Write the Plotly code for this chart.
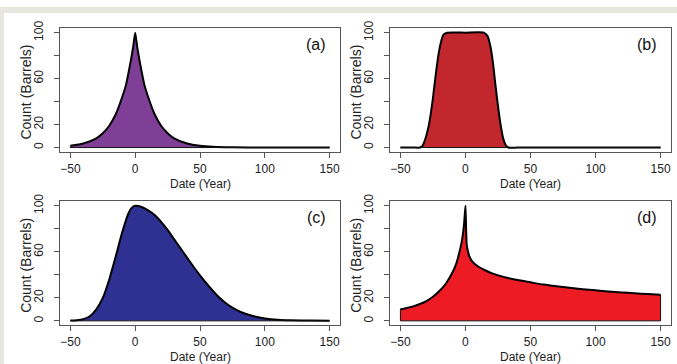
import plotly.graph_objects as go

# ---------------- data ----------------
x_a = [-50, -40, -30, -25, -20, -15, -10, -7, -5, -3, -1.5, 0, 1.5, 3, 5, 7, 10, 15, 20, 25, 30, 40, 50, 60, 75, 100, 125, 150]
y_a = [1.5, 3.5, 8, 12.5, 19, 29, 44, 55, 66, 78, 88, 100, 88, 78, 66, 55, 44, 29, 19, 12.5, 8, 3.5, 1.5, 0.7, 0.2, 0.05, 0, 0]

x_b = [-50, -40, -35, -33, -31, -29, -27, -25, -23, -21, -19, -17, -14, 0, 14, 17, 19, 21, 23, 25, 27, 29, 31, 33, 40, 50, 100, 150]
y_b = [0, 0, 0, 1.5, 7, 15, 27, 43, 62, 79, 91, 98, 100, 100, 100, 97, 89, 75, 55, 36, 20, 8, 2, 0, 0, 0, 0, 0]

x_c = [-50, -45, -40, -35, -30, -25, -20, -15, -10, -5, -2, 0, 5, 10, 15, 20, 25, 30, 35, 40, 45, 50, 55, 60, 65, 70, 75, 80, 85, 90, 95, 100, 110, 120, 135, 150]
y_c = [0.2, 0.5, 1.5, 4, 10, 20, 36, 56, 77, 94, 99, 100, 99, 96, 92, 86, 79, 71, 63, 55, 47, 39.5, 32.5, 26, 20, 15.3, 11.5, 8.5, 6.2, 4.4, 3.1, 2.1, 1, 0.5, 0.2, 0.1]

x_d = [-50, -45, -40, -35, -30, -25, -20, -15, -10, -7, -5, -3, -2, -1, 0, 0.5, 1, 2, 3, 5, 10, 15, 20, 30, 40, 50, 60, 70, 80, 90, 100, 110, 120, 130, 140, 150]
y_d = [10, 11.2, 12.6, 14.6, 17.2, 21, 26, 32.5, 42, 50, 58, 68, 75, 85, 100, 80, 66, 60, 56, 52, 47, 44, 41.5, 38, 35.5, 33.5, 31.5, 30, 28.7, 27.5, 26.5, 25.5, 24.7, 24, 23.3, 22.7]

panel_labels = ["(a)", "(b)", "(c)", "(d)"]
fill_colors = ["#7f3f97", "#c1272d", "#2e3192", "#ed1c24"]
x_ticks = [-50, 0, 50, 100, 150]
y_ticks = [0, 20, 40, 60, 80, 100]
y_tick_text = ["0", "20", "", "60", "", "100"]
x_title = "Date (Year)"
y_title = "Count (Barrels)"

series = [(x_a, y_a), (x_b, y_b), (x_c, y_c), (x_d, y_d)]

# ---------------- layout geometry ----------------
W, H = 677, 364
xdoms = [[60 / W, 340 / W], [390 / W, 671 / W]]
ydoms = [[1 - 148 / H, 1 - 21.5 / H], [1 - 324.7 / H, 1 - 198 / H]]
FONT = "Liberation Sans, Arial, Helvetica, sans-serif"

fig = go.Figure()
layout = dict(
    width=W, height=H, margin=dict(l=0, r=0, t=0, b=0),
    paper_bgcolor="white", plot_bgcolor="white", showlegend=False,
    font=dict(family=FONT, size=12, color="#222"),
    annotations=[], shapes=[],
)

for i, ((xs, ys), lab, col) in enumerate(zip(series, panel_labels, fill_colors)):
    row, c = divmod(i, 2)
    sfx = "" if i == 0 else str(i + 1)
    xa, ya = "x" + sfx, "y" + sfx
    fig.add_trace(go.Scatter(
        x=xs, y=ys, mode="lines", fill="tozeroy", fillcolor=col,
        line=dict(color="black", width=2, shape="spline", smoothing=0.6),
        xaxis=xa, yaxis=ya, hoverinfo="skip"))
    # polygon edges (base line and end verticals)
    fig.add_trace(go.Scatter(
        x=[xs[0], xs[0], xs[-1], xs[-1]], y=[ys[0], 0, 0, ys[-1]], mode="lines",
        line=dict(color="#111", width=1), xaxis=xa, yaxis=ya, hoverinfo="skip"))

    axis_common = dict(showline=True, mirror=True, linecolor="#555", linewidth=1,
                       ticks="outside", ticklen=5, tickcolor="#555", tickwidth=1,
                       showgrid=False, zeroline=False, fixedrange=True,
                       tickfont=dict(family=FONT, size=12, color="#222"))
    layout["xaxis" + sfx] = dict(axis_common, domain=xdoms[c], range=[-58, 158],
                                 tickvals=x_ticks, anchor=ya, ticklabelstandoff=0)
    layout["yaxis" + sfx] = dict(axis_common, domain=ydoms[row], range=[-4, 104],
                                 tickvals=y_ticks, ticktext=y_tick_text, tickangle=-90,
                                 anchor=xa, ticklabelstandoff=6)
    # panel label
    layout["annotations"].append(dict(
        text=lab, xref=xa + " domain", yref=ya + " domain", x=0.915, y=0.87,
        xanchor="center", yanchor="middle", showarrow=False,
        font=dict(family=FONT, size=16, color="#111")))
    # axis titles
    layout["annotations"].append(dict(
        text=x_title, xref=xa + " domain", yref=ya + " domain", x=0.5, y=0,
        yshift=-32, xanchor="center", yanchor="middle", showarrow=False,
        font=dict(family=FONT, size=12, color="#222")))
    layout["annotations"].append(dict(
        text=y_title, xref=xa + " domain", yref=ya + " domain", x=0, y=0.48,
        xshift=-34, xanchor="center", yanchor="middle", textangle=-90, showarrow=False,
        font=dict(family=FONT, size=14, color="#222")))

# light grey frame at top and left edge
layout["shapes"] += [
    dict(type="rect", xref="paper", yref="paper", x0=0, x1=1, y0=1 - 6 / H, y1=1,
         fillcolor="#e7e7e0", line=dict(width=0), layer="below"),
    dict(type="rect", xref="paper", yref="paper", x0=0, x1=4 / W, y0=0, y1=1,
         fillcolor="#e7e7e0", line=dict(width=0), layer="below"),
]

fig.update_layout(**layout)
fig.write_html(
    "out.html",
    config={"displayModeBar": False, "staticPlot": True},
    post_script="document.documentElement.style.margin='0';document.body.style.margin='0';"
                "document.body.style.overflow='hidden';document.documentElement.style.overflow='hidden';",
)
